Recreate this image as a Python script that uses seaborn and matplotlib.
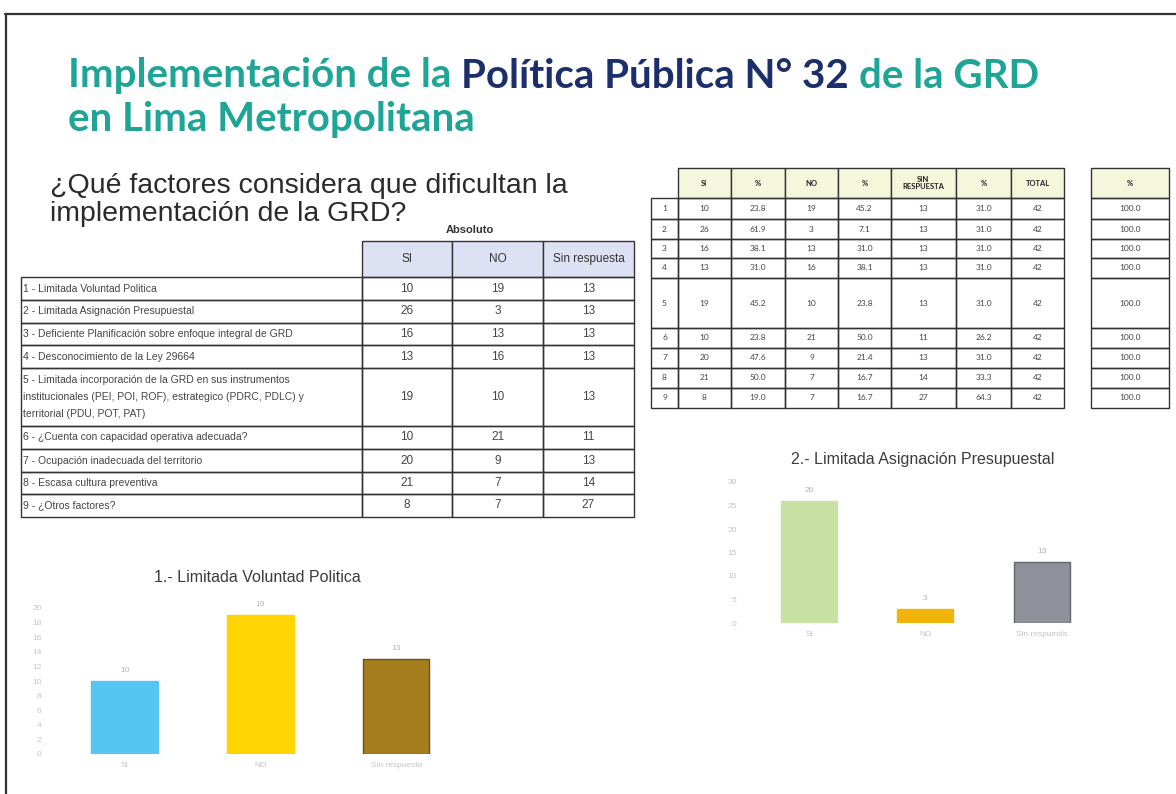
import numpy as np
import pandas as pd
import matplotlib
matplotlib.use("Agg")
import matplotlib.pyplot as plt
from matplotlib.patches import Rectangle
import seaborn as sns

# ---- data ----
row_labels = [
    "1 - Limitada Voluntad Politica",
    "2 - Limitada Asignación Presupuestal",
    "3 - Deficiente Planificación sobre enfoque integral de GRD",
    "4 - Desconocimiento de la Ley 29664",
    "5 - Limitada incorporación de la GRD en sus instrumentos\ninstitucionales (PEI, POI, ROF), estrategico (PDRC, PDLC) y\nterritorial (PDU, POT, PAT)",
    "6 - ¿Cuenta con capacidad operativa adecuada?",
    "7 - Ocupación inadecuada del territorio",
    "8 - Escasa cultura preventiva",
    "9 - ¿Otros factores?",
]
si = [10, 26, 16, 13, 19, 10, 20, 21, 8]
no = [19, 3, 13, 16, 10, 21, 9, 7, 7]
sin_resp = [13, 13, 13, 13, 13, 11, 13, 14, 27]
si_pct = [23.8, 61.9, 38.1, 31.0, 45.2, 23.8, 47.6, 50.0, 19.0]
no_pct = [45.2, 7.1, 31.0, 38.1, 23.8, 50.0, 21.4, 16.7, 16.7]
sin_pct = [31.0, 31.0, 31.0, 31.0, 31.0, 26.2, 31.0, 33.3, 64.3]
total = [42, 42, 42, 42, 42, 42, 42, 42, 42]
total_pct = [100.0, 100.0, 100.0, 100.0, 100.0, 100.0, 100.0, 100.0, 100.0]

abs_headers = ["SI", "NO", "Sin respuesta"]
pct_headers = ["SI", "%", "NO", "%", "SIN\nRESPUESTA", "%", "TOTAL"]
bar_cats = ["SI", "NO", "Sin respuesta"]
bar_tick_labels = ["Si", "NO", "Sin respuesta"]

sns.set_theme(style="white")
plt.rcParams["font.family"] = ["Liberation Sans", "DejaVu Sans"]

W, H = 1176, 794
fig = plt.figure(figsize=(W / 100, H / 100), dpi=100)
fig.patch.set_facecolor("white")

# full-figure axes in pixel units for the slide text and tables
bg = fig.add_axes([0, 0, 1, 1])
bg.set_xlim(0, W)
bg.set_ylim(H, 0)
bg.axis("off")
renderer = fig.canvas.get_renderer()

# scanned page frame
bg.plot([5, W], [14, 14], color="#333333", lw=1.6)
bg.plot([6, 6], [14, H], color="#333333", lw=1.6)


def text_w(s, **kw):
    t = bg.text(0, 0, s + "|", **kw)
    w1 = t.get_window_extent(renderer).width
    t.remove()
    t = bg.text(0, 0, "|", **kw)
    w2 = t.get_window_extent(renderer).width
    t.remove()
    return w1 - w2


# title, two colours
teal = "#1fa596"
navy = "#1c2f6b"
tkw = dict(fontsize=29, fontweight="bold", family=["Lato", "DejaVu Sans"], va="center")
pieces = [("Implementación de la ", teal), ("Política Pública N° 32 ", navy), ("de la GRD", teal)]
x = 68
for s, c in pieces:
    bg.text(x, 76, s, color=c, **tkw)
    x += text_w(s, **tkw)
bg.text(68, 120, "en Lima Metropolitana", color=teal, **tkw)

# question
bg.text(50, 186, "¿Qué factores considera que dificultan la", fontsize=20.5, color="#2b2b2b", va="center")
bg.text(50, 214, "implementación de la GRD?", fontsize=20.5, color="#2b2b2b", va="center")

# ---- left table (absolute values) ----
bg.text(470, 230, "Absoluto", fontsize=8, fontweight="bold", color="#333333", ha="center", va="center")
col_x = [21, 362, 452, 543, 634]
row_y = [277, 300, 323, 345, 368, 426, 449, 472, 494, 517]
hdr_top = 241
for j, h in enumerate(abs_headers):
    bg.add_patch(Rectangle((col_x[j + 1], hdr_top), col_x[j + 2] - col_x[j + 1], row_y[0] - hdr_top,
                           facecolor="#dde1f4", edgecolor="#333333", lw=1.0))
    bg.text((col_x[j + 1] + col_x[j + 2]) / 2, (hdr_top + row_y[0]) / 2, h, fontsize=8.5,
            color="#333333", ha="center", va="center")
for i, lab in enumerate(row_labels):
    y0, y1 = row_y[i], row_y[i + 1]
    for j in range(4):
        bg.add_patch(Rectangle((col_x[j], y0), col_x[j + 1] - col_x[j], y1 - y0,
                               facecolor="none", edgecolor="#333333", lw=1.0))
    bg.text(col_x[0] + 2, (y0 + y1) / 2, lab, fontsize=7.5, color="#444444", va="center",
            linespacing=1.9)
    for j, v in enumerate([si[i], no[i], sin_resp[i]]):
        bg.text((col_x[j + 1] + col_x[j + 2]) / 2, (y0 + y1) / 2, str(v), fontsize=8.5,
                color="#444444", ha="center", va="center")

# ---- right table (absolute + percentages) ----
rc_x = [651, 678, 731, 785, 838, 891, 956, 1011, 1064]
pc_x = [1091, 1169]
rr_y = [198, 219, 239, 258, 278, 328, 348, 368, 388, 408]
rh_top = 168
hkw = dict(fontsize=5.5, fontweight="bold", color="#222222", ha="center", va="center",
           family=["Lato", "DejaVu Sans"], linespacing=1.0)
for j, h in enumerate(pct_headers):
    bg.add_patch(Rectangle((rc_x[j + 1], rh_top), rc_x[j + 2] - rc_x[j + 1], rr_y[0] - rh_top,
                           facecolor="#f5f7dc", edgecolor="#333333", lw=1.0))
    bg.text((rc_x[j + 1] + rc_x[j + 2]) / 2, (rh_top + rr_y[0]) / 2, h, **hkw)
bg.add_patch(Rectangle((pc_x[0], rh_top), pc_x[1] - pc_x[0], rr_y[0] - rh_top,
                       facecolor="#f5f7dc", edgecolor="#333333", lw=1.0))
bg.text((pc_x[0] + pc_x[1]) / 2, (rh_top + rr_y[0]) / 2, "%", **hkw)

bkw = dict(fontsize=6, color="#444444", ha="center", va="center", family=["Lato", "DejaVu Sans"])
for i in range(len(si)):
    y0, y1 = rr_y[i], rr_y[i + 1]
    cells = [str(i + 1), str(si[i]), f"{si_pct[i]:.1f}", str(no[i]), f"{no_pct[i]:.1f}",
             str(sin_resp[i]), f"{sin_pct[i]:.1f}", str(total[i])]
    for j, c in enumerate(cells):
        bg.add_patch(Rectangle((rc_x[j], y0), rc_x[j + 1] - rc_x[j], y1 - y0,
                               facecolor="none", edgecolor="#333333", lw=1.0))
        bg.text((rc_x[j] + rc_x[j + 1]) / 2, (y0 + y1) / 2, c, **bkw)
    bg.add_patch(Rectangle((pc_x[0], y0), pc_x[1] - pc_x[0], y1 - y0,
                           facecolor="none", edgecolor="#333333", lw=1.0))
    bg.text((pc_x[0] + pc_x[1]) / 2, (y0 + y1) / 2, f"{total_pct[i]:.1f}", **bkw)


# ---- bar charts ----
def px_axes(x0, y0, x1, y1):
    return fig.add_axes([x0 / W, 1 - y1 / H, (x1 - x0) / W, (y1 - y0) / H])


def bar_chart(ax, vals, colors, edges, ymax, step, width, title, pad):
    df = pd.DataFrame({"cat": bar_cats, "val": vals})
    sns.barplot(data=df, x="cat", y="val", hue="cat", palette=colors, width=width,
                saturation=1, legend=False, ax=ax)
    for p, e in zip(ax.patches, edges):
        p.set_edgecolor(e)
        p.set_linewidth(1.0)
    for cont in ax.containers:
        ax.bar_label(cont, fontsize=6, color="#b5b5b5", padding=5)
    ax.set_ylim(0, ymax)
    ax.set_xlim(-0.55, 2.5)
    ax.set_yticks(np.arange(0, ymax + 1, step))
    ax.set_xticks(range(3))
    ax.set_xticklabels(bar_tick_labels)
    ax.tick_params(axis="both", labelsize=6, labelcolor="#c4c4c4", length=0, pad=6)
    ax.set_xlabel("")
    ax.set_ylabel("")
    for s in ax.spines.values():
        s.set_visible(False)
    ax.set_facecolor("none")
    ax.set_title(title, fontsize=11.5, color="#3c3c3c", pad=pad)


ax1 = px_axes(50, 608, 464, 754)
bar_chart(ax1, [si[0], no[0], sin_resp[0]], ["#55c6f2", "#ffd400", "#a67e1e"],
          ["#55c6f2", "#ffd400", "#6e5210"], 20, 2, 0.49, "1.- Limitada Voluntad Politica", 19)

ax2 = px_axes(745, 482, 1100, 623)
bar_chart(ax2, [si[1], no[1], sin_resp[1]], ["#c8e2a4", "#f0b40a", "#90909b"],
          ["#c8e2a4", "#f0b40a", "#66666f"], 30, 5, 0.48, "2.- Limitada Asignación Presupuestal", 13)

fig.savefig("out.png", dpi=100, facecolor="white")
